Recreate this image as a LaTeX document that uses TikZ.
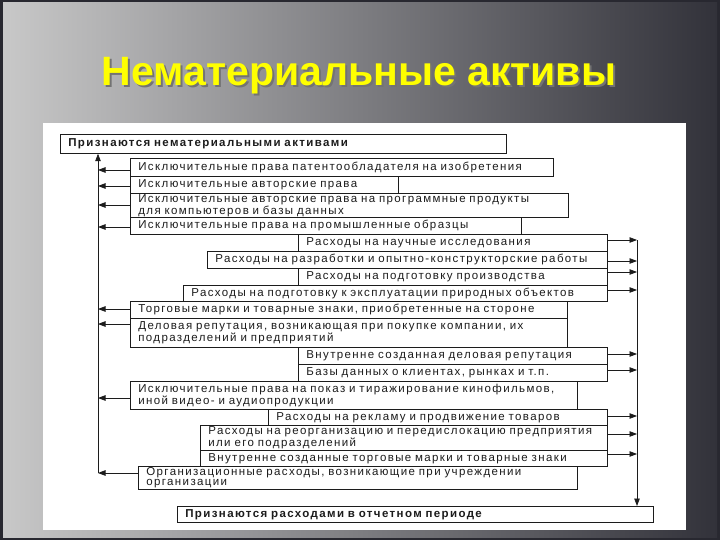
\documentclass[tikz,border=0pt]{standalone}
\usepackage{fontspec}
\setmainfont{Liberation Sans}
\newfontfamily\scanfont[LetterSpace=12]{Liberation Sans}
\usetikzlibrary{arrows.meta}

\definecolor{bgdark}{RGB}{40,40,48}
\definecolor{bglight}{RGB}{200,200,200}
\definecolor{bgright}{RGB}{50,50,58}
\definecolor{titleyellow}{RGB}{255,255,0}
\definecolor{ink}{RGB}{28,28,28}

\tikzset{
  row/.style={draw=ink, line width=0.7pt, anchor=north west, inner xsep=8pt, inner ysep=0pt,
    align=left, text=ink, font=\scanfont\fontsize{11.5}{10}\selectfont},
  rowbold/.style={row, font=\scanfont\bfseries\fontsize{11.5}{10}\selectfont},
  link/.style={draw=ink, line width=0.75pt, -{Triangle[length=7.5pt,width=5.5pt]}},
  headline/.style={font=\bfseries\fontsize{41}{45}\selectfont, anchor=base},
}

% box with corners (x1,y1) and (x2,y2) in pixels
\newcommand\rowbox[7][row]{%
  \pgfmathsetmacro\rowW{#5-#3}%
  \pgfmathsetmacro\rowH{#6-#4}%
  \pgfmathsetmacro\rowT{#5-#3-16}%
  \node[#1, minimum width=\rowW pt, minimum height=\rowH pt, text width=\rowT pt] (#2) at (#3,#4) {#7};}

\begin{document}
\begin{tikzpicture}[x=1pt,y=-1pt]
\useasboundingbox (0,0) rectangle (720,540);
% background and panel
\fill[bgdark] (0,0) rectangle (720,540);
\shade[left color=bglight, right color=bgright] (3,3) rectangle (717,537);
\fill[white] (43,123) rectangle (686,530);

% title
\node[headline, text=black!55] (titleshadow) at (361,88) {Нематериальные активы};
\node[headline, text=titleyellow] (title) at (359,86) {Нематериальные активы};

% boxes
\rowbox[rowbold]{top}{60}{134}{506}{153}{Признаются нематериальными активами}
\rowbox{a1}{130}{158}{553}{176}{Исключительные права патентообладателя на изобретения}
\rowbox{a2}{130}{176}{398}{193}{Исключительные авторские права}
\rowbox{a3}{130}{193}{568}{217}{Исключительные авторские права на программные продукты\\для компьютеров и базы данных}
\rowbox{a4}{130}{217}{521}{234}{Исключительные права на промышленные образцы}
\rowbox{b1}{298}{234}{607}{251}{Расходы на научные исследования}
\rowbox{b2}{207}{251}{607}{268}{Расходы на разработки и опытно-конструкторские работы}
\rowbox{b3}{298}{268}{607}{285}{Расходы на подготовку производства}
\rowbox{b4}{183}{285}{607}{301}{Расходы на подготовку к эксплуатации природных объектов}
\rowbox{c1}{130}{301}{567}{318}{Торговые марки и товарные знаки, приобретенные на стороне}
\rowbox{c2}{130}{318}{567}{347}{Деловая репутация, возникающая при покупке компании, их\\подразделений и предприятий}
\rowbox{d1}{298}{347}{607}{364}{Внутренне созданная деловая репутация}
\rowbox{d2}{298}{364}{607}{381}{Базы данных о клиентах, рынках и т.п.}
\rowbox{e1}{130}{381}{577}{409}{Исключительные права на показ и тиражирование кинофильмов,\\иной видео- и аудиопродукции}
\rowbox{f1}{268}{409}{607}{425}{Расходы на рекламу и продвижение товаров}
\rowbox{f2}{200}{425}{607}{450}{Расходы на реорганизацию и передислокацию предприятия\\или его подразделений}
\rowbox{f3}{200}{450}{607}{466}{Внутренне созданные торговые марки и товарные знаки}
\rowbox{g1}{138}{466}{577}{489}{Организационные расходы, возникающие при учреждении\\организации}
\rowbox[rowbold]{bottom}{177}{506}{653}{522}{Признаются расходами в отчетном периоде}

% arrows to the left line
\foreach \n/\y in {a1/170,a2/186,a3/205,a4/227,c1/309,c2/324,e1/398,g1/473}{
  \coordinate (l-\n) at (98,\y);
  \draw[link] (\n.west |- l-\n) -- (l-\n);
}
\draw[link] (l-g1) -- (l-g1 |- top.south);

% arrows to the right line
\foreach \n/\y in {b1/240,b2/261,b3/272,b4/290,d1/354,d2/370,f1/416,f2/434,f3/454}{
  \coordinate (r-\n) at (637,\y);
  \draw[link] (\n.east |- r-\n) -- (r-\n);
}
\draw[link] (r-b1) -- (r-b1 |- bottom.north);
\end{tikzpicture}
\end{document}
